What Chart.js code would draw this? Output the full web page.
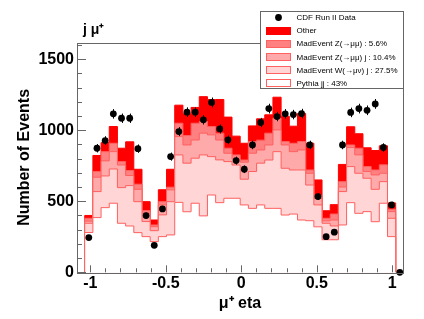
<!DOCTYPE html>
<html>
<head>
<meta charset="utf-8">
<script src="https://cdn.jsdelivr.net/npm/chart.js@4.4.0/dist/chart.umd.min.js"></script>
<style>
  body { margin: 0; background: #fff; }
  canvas { display: block; }
</style>
</head>
<body>
<canvas id="chart" width="424" height="319"></canvas>
<script>
// histogram binning (mu+ eta)
const binLow = -1.037;
const binWidth = 0.0542;

// CDF data, one per bin (last one is the empty bin past the MC)
const dataCounts = [244, 873, 927, 1115, 1084, 1084, 870, 399, 190, 446, 814, 990, 1127, 1127, 1073,
    1195, 1009, 932, 786, 725, 896, 1054, 1152, 1096, 1115, 1110, 1117, 896, 533, 251, 282, 896,
    1125, 1152, 1140, 1185, 878, 474, 0];

// MC components, per bin
const pythia = [280, 385, 455, 486, 345, 326, 279, 251, 216, 251, 263, 492, 426, 486, 397, 544, 490,
    521, 521, 474, 450, 474, 450, 450, 403, 410, 368, 363, 320, 229, 229, 333, 490, 415, 427, 356, 486, 251];
const wjet = [65, 183, 223, 241, 251, 284, 218, 106, 77, 153, 234, 334, 342, 317, 429, 270, 301,
    258, 234, 181, 259, 294, 340, 399, 329, 310, 352, 251, 154, 116, 97, 235, 254, 282, 235, 228, 152, 129];
const zjet = [15, 101, 106, 122, 159, 71, 87, 58, 28, 70, 83, 129, 128, 128, 153, 153, 140,
    59, 41, 120, 129, 93, 106, 153, 164, 129, 141, 83, 46, 17, 42, 32, 134, 129, 47, 101, 59, 47];
const zmumu = [20, 40, 65, 59, 24, 35, 36, 19, 12, 23, 19, 94, 66, 118, 82, 59, 48,
    35, 30, 15, 82, 69, 83, 82, 24, 59, 59, 23, 17, 18, 42, 38, 18, 47, 35, 35, 59, 17];
const other = [20, 113, 63, 118, 94, 202, 105, 63, 35, 84, 126, 127, 153, 111, 175, 190, 237,
    219, 132, 118, 110, 150, 129, 148, 178, 120, 198, 188, 113, 53, 66, 121, 128, 102, 132, 137, 134, 44];

const xTicks = [-1, -0.5, 0, 0.5, 1];
const xTickLabels = ['-1', '-0.5', '0', '0.5', '1'];
const yTicks = [0, 500, 1000, 1500];
const yTickLabels = ['0', '500', '1000', '1500'];

const layerLabels = ['Other', 'MadEvent Z(\u2192\u03bc\u03bc) : 5.6%', 'MadEvent Z(\u2192\u03bc\u03bc) j : 10.4%',
    'MadEvent W(\u2192\u03bc\u03bd) j : 27.5%', 'Pythia jj : 43%'];
const layerFill = ['#ff0000', '#ff8080', '#ffaaaa', '#ffd5d5', '#ffffff'];
const layerLine = ['#ff0000', '#ff6060', '#ff6060', '#ff6060', '#ff6060'];

const edges = [];
for (let k = 0; k <= pythia.length; k++) edges.push(binLow + k * binWidth);

// stacked totals, top (Other) first
const parts = [pythia, wjet, zjet, zmumu, other];
const cumul = [];
let run = pythia.map(() => 0);
parts.forEach(p => {
    run = run.map((v, i) => v + p[i]);
    cumul.push(run);
});
cumul.reverse();

function stepPoints(vals) {
    const pts = [{x: edges[0], y: 0}];
    vals.forEach((v, i) => pts.push({x: edges[i], y: v}));
    pts.push({x: edges[vals.length], y: 0});
    return pts;
}

const dataPoints = dataCounts.map((n, i) => ({x: binLow + (i + 0.5) * binWidth, y: n}));

const datasets = [{
    type: 'scatter',
    label: 'CDF Run II Data',
    data: dataPoints,
    pointRadius: 3.4,
    pointBackgroundColor: '#000',
    pointBorderWidth: 0,
    clip: false
}];
// Pythia drawn last (on top), Other first
for (let i = 4; i >= 0; i--) {
    datasets.push({
        type: 'line',
        label: layerLabels[i],
        data: stepPoints(cumul[i]),
        stepped: 'before',
        fill: 'origin',
        backgroundColor: layerFill[i],
        borderColor: layerLine[i],
        borderWidth: 1,
        pointRadius: 0
    });
}

const FONT = '"Liberation Sans", Arial, Helvetica, sans-serif';

const rootStyle = {
    id: 'rootStyle',
    afterDatasetsDraw(chart) {
        const ctx = chart.ctx;
        const xs = chart.scales.x, ys = chart.scales.y;
        const a = chart.chartArea;
        ctx.save();
        // error bars
        ctx.strokeStyle = '#000';
        ctx.lineWidth = 1;
        dataPoints.forEach(p => {
            if (p.y <= 0) return;
            const e = Math.sqrt(p.y);
            const px = Math.round(xs.getPixelForValue(p.x)) + 0.5;
            ctx.beginPath();
            ctx.moveTo(px, ys.getPixelForValue(p.y + e));
            ctx.lineTo(px, ys.getPixelForValue(p.y - e));
            ctx.stroke();
        });
        // frame
        ctx.strokeStyle = '#666';
        ctx.strokeRect(Math.round(a.left) + 0.5, Math.round(a.top) + 0.5,
            Math.round(a.right - a.left), Math.round(a.bottom - a.top));
        // ticks inside the frame
        ctx.beginPath();
        for (let v = 0; v <= ys.max; v += 100) {
            const py = Math.round(ys.getPixelForValue(v)) + 0.5;
            const len = v % 500 === 0 ? 9 : 5;
            ctx.moveTo(a.left, py);
            ctx.lineTo(a.left + len, py);
        }
        for (let t = -10; t <= 10; t++) {
            const px = Math.round(xs.getPixelForValue(t / 10)) + 0.5;
            const len = t % 5 === 0 ? 7 : 4;
            ctx.moveTo(px, a.bottom);
            ctx.lineTo(px, a.bottom - len);
        }
        ctx.stroke();

        // channel label
        ctx.fillStyle = '#000';
        ctx.font = 'bold 14px ' + FONT;
        ctx.textBaseline = 'alphabetic';
        ctx.textAlign = 'left';
        ctx.fillText('j \u03bc\u207a', 83, 34);

        // legend
        const lx = 260.5, ly = 11.5, lw = 143, lh = 77;
        ctx.fillStyle = '#fff';
        ctx.fillRect(lx, ly, lw, lh);
        ctx.strokeStyle = '#666';
        ctx.strokeRect(lx, ly, lw, lh);
        const rows = ['CDF Run II Data'].concat(layerLabels);
        ctx.font = '8px ' + FONT;
        ctx.textBaseline = 'middle';
        rows.forEach((txt, i) => {
            const cy = 17.5 + i * 13.1;
            if (i === 0) {
                ctx.fillStyle = '#000';
                ctx.beginPath();
                ctx.arc(278.5, cy, 3.4, 0, Math.PI * 2);
                ctx.fill();
            } else {
                ctx.fillStyle = layerFill[i - 1];
                ctx.fillRect(266, Math.round(cy - 4), 25, 8);
                ctx.strokeStyle = layerLine[i - 1];
                ctx.strokeRect(266.5, Math.round(cy - 4) + 0.5, 24, 7);
            }
            ctx.fillStyle = '#000';
            ctx.fillText(txt, 296.5, cy + 0.5);
        });
        ctx.restore();
    }
};

new Chart(document.getElementById('chart'), {
    data: { datasets: datasets },
    options: {
        responsive: false,
        animation: false,
        devicePixelRatio: 1,
        layout: { padding: { top: 42.5, right: 21, left: 0, bottom: 0 } },
        plugins: {
            legend: { display: false },
            tooltip: { enabled: false },
            title: { display: false }
        },
        scales: {
            x: {
                type: 'linear',
                min: -1.088,
                max: 1.071,
                afterBuildTicks: (s) => { s.ticks = xTicks.map(v => ({value: v})); },
                afterFit: (s) => { s.height = 46.7; },
                grid: { display: false, drawTicks: false },
                border: { display: false },
                ticks: {
                    padding: 2,
                    maxRotation: 0,
                    autoSkip: false,
                    color: '#000',
                    font: { family: FONT, size: 16, weight: 'bold' },
                    callback: (v) => xTickLabels[xTicks.indexOf(v)]
                },
                title: {
                    display: true,
                    text: '\u03bc\u207a eta',
                    color: '#000',
                    font: { family: FONT, size: 16, weight: 'bold' },
                    padding: { top: 0, bottom: 6 }
                }
            },
            y: {
                type: 'linear',
                min: 0,
                max: 1617,
                afterBuildTicks: (s) => { s.ticks = yTicks.map(v => ({value: v})); },
                afterFit: (s) => { s.width = 77; },
                grid: { display: false, drawTicks: false },
                border: { display: false },
                ticks: {
                    padding: 3,
                    color: '#000',
                    font: { family: FONT, size: 16, weight: 'bold' },
                    callback: (v) => yTickLabels[yTicks.indexOf(v)]
                },
                title: {
                    display: true,
                    text: 'Number of Events',
                    color: '#000',
                    font: { family: FONT, size: 16, weight: 'bold' },
                    padding: { top: 15, bottom: 0 }
                }
            }
        }
    },
    plugins: [rootStyle]
});
</script>
</body>
</html>
